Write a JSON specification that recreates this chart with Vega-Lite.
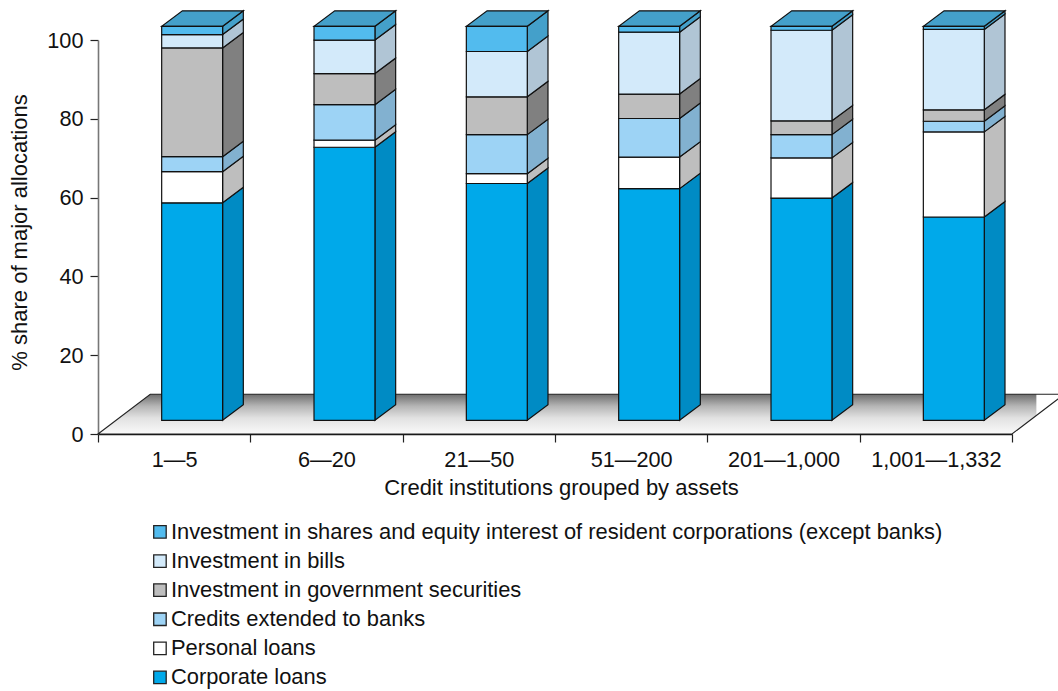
{
"$schema":"https://vega.github.io/schema/vega-lite/v6.json",
"autosize":"none","width":914,"height":394,
"padding":{"left":98,"right":46,"top":40,"bottom":257},
"background":"white",
"config":{"font":"Liberation Sans","view":{"stroke":null},
"axis":{"grid":false,"labelFont":"Liberation Sans","titleFont":"Liberation Sans","labelFontSize":21.7,"titleFontSize":22,"titleFontWeight":"normal","labelColor":"#111","titleColor":"#111","tickColor":"#222","tickSize":8,"tickWidth":1.2,"domainColor":"#333","domainWidth":1.4}},
"resolve":{"axis":{"x":"independent","y":"independent"}},
"datasets":{"alloc":[
{"group":0,"order":1,"series":"Corporate loans","share":55.2},
{"group":0,"order":2,"series":"Personal loans","share":7.9},
{"group":0,"order":3,"series":"Credits  extended to banks","share":3.8},
{"group":0,"order":4,"series":"Investment in government securities","share":27.6},
{"group":0,"order":5,"series":"Investment in bills","share":3.4},
{"group":0,"order":6,"series":"Investment in shares and equity interest of resident corporations (except banks)","share":2.1},
{"group":1,"order":1,"series":"Corporate loans","share":69.3},
{"group":1,"order":2,"series":"Personal loans","share":1.8},
{"group":1,"order":3,"series":"Credits  extended to banks","share":9.0},
{"group":1,"order":4,"series":"Investment in government securities","share":7.9},
{"group":1,"order":5,"series":"Investment in bills","share":8.5},
{"group":1,"order":6,"series":"Investment in shares and equity interest of resident corporations (except banks)","share":3.5},
{"group":2,"order":1,"series":"Corporate loans","share":60.1},
{"group":2,"order":2,"series":"Personal loans","share":2.5},
{"group":2,"order":3,"series":"Credits  extended to banks","share":9.9},
{"group":2,"order":4,"series":"Investment in government securities","share":9.6},
{"group":2,"order":5,"series":"Investment in bills","share":11.5},
{"group":2,"order":6,"series":"Investment in shares and equity interest of resident corporations (except banks)","share":6.4},
{"group":3,"order":1,"series":"Corporate loans","share":58.8},
{"group":3,"order":2,"series":"Personal loans","share":8.0},
{"group":3,"order":3,"series":"Credits  extended to banks","share":9.8},
{"group":3,"order":4,"series":"Investment in government securities","share":6.2},
{"group":3,"order":5,"series":"Investment in bills","share":15.7},
{"group":3,"order":6,"series":"Investment in shares and equity interest of resident corporations (except banks)","share":1.5},
{"group":4,"order":1,"series":"Corporate loans","share":56.4},
{"group":4,"order":2,"series":"Personal loans","share":10.2},
{"group":4,"order":3,"series":"Credits  extended to banks","share":5.9},
{"group":4,"order":4,"series":"Investment in government securities","share":3.5},
{"group":4,"order":5,"series":"Investment in bills","share":23.0},
{"group":4,"order":6,"series":"Investment in shares and equity interest of resident corporations (except banks)","share":1.0},
{"group":5,"order":1,"series":"Corporate loans","share":51.6},
{"group":5,"order":2,"series":"Personal loans","share":21.6},
{"group":5,"order":3,"series":"Credits  extended to banks","share":2.7},
{"group":5,"order":4,"series":"Investment in government securities","share":2.9},
{"group":5,"order":5,"series":"Investment in bills","share":20.4},
{"group":5,"order":6,"series":"Investment in shares and equity interest of resident corporations (except banks)","share":0.8}
]},
"layer":[
{"data":{"values":[{"x":0,"lo":0,"hi":0},{"x":0.343,"lo":0,"hi":10.1},{"x":6,"lo":0,"hi":10.1},{"x":6.16,"lo":4.7,"hi":10.1}]},
"mark":{"type":"area","stroke":null,"color":{"gradient":"linear","x1":0,"y1":0,"x2":0,"y2":1,"stops":[{"offset":0,"color":"#6e6e6e"},{"offset":0.3,"color":"#b5b5b5"},{"offset":0.6,"color":"#e2e2e2"},{"offset":1,"color":"#fafafa"}]}},
"encoding":{"x":{"field":"x","type":"quantitative","scale":{"domain":[0,6],"nice":false,"zero":false},"axis":{"values":[0,1,2,3,4,5,6],"labels":false,"title":null,"orient":"bottom","domain":false}},
"y":{"field":"lo","type":"quantitative","scale":{"domain":[0,100],"nice":false},"axis":{"values":[0,20,40,60,80,100],"title":"% share of major allocations","titlePadding":15,"titleY":192,"labelPadding":7,"domainColor":"#777","domainWidth":1.6,"orient":"left"}},
"y2":{"field":"hi"}}},
{"data":{"values":[{"x":0,"lo":0,"hi":0},{"x":0.343,"lo":0,"hi":10.1},{"x":6,"lo":0,"hi":10.1},{"x":6.343,"lo":10.1,"hi":10.1}]},
"mark":{"type":"area","fill":"transparent","stroke":"#222","strokeWidth":1.1},
"encoding":{"x":{"field":"x","type":"quantitative","axis":{"values":[0.5,1.5,2.5,3.5,4.5,5.5],"labelExpr":"['1—5','6—20','21—50','51—200','201—1,000','1,001—1,332'][floor(datum.value)]","title":"Credit institutions grouped by assets","titlePadding":7,"titleX":463,"ticks":false,"labelPadding":15,"orient":"bottom","domain":true,"domainColor":"#111"}},
"y":{"field":"lo","type":"quantitative","axis":null},"y2":{"field":"hi"}}},
{"data":{"name":"alloc"},
"transform":[
{"stack":"share","groupby":["group"],"sort":[{"field":"order","order":"ascending"}],"as":["s0","s1"]},
{"calculate":"datum.s0+3.48","as":"f0"},{"calculate":"datum.s1+3.48","as":"f1"},
{"calculate":"datum.group+0.818","as":"xr"},
{"calculate":"[0,1]","as":"t"},{"flatten":["t"]},
{"calculate":"datum.xr+0.136*datum.t","as":"sx"},{"calculate":"datum.f0+3.93*datum.t","as":"sl"},{"calculate":"datum.f1+3.93*datum.t","as":"sh"}],
"mark":{"type":"area","stroke":"#111","strokeWidth":1.2},
"encoding":{"x":{"field":"sx","type":"quantitative","axis":null},"y":{"field":"sl","type":"quantitative","axis":null},"y2":{"field":"sh"},
"detail":{"field":"group"},
"fill":{"field":"series","type":"nominal","legend":null,"scale":{"domain":["Corporate loans","Personal loans","Credits  extended to banks","Investment in government securities","Investment in bills","Investment in shares and equity interest of resident corporations (except banks)"],"range":["#008bc4","#bebebe","#82b1d0","#808080","#b0c5d5","#44a0ca"]}}}},
{"data":{"name":"alloc"},
"transform":[
{"stack":"share","groupby":["group"],"sort":[{"field":"order","order":"ascending"}],"as":["s0","s1"]},
{"filter":"datum.order==6"},
{"calculate":"datum.s1+3.48","as":"f1"},
{"calculate":"datum.group+0.418","as":"xl"},{"calculate":"datum.group+0.818","as":"xr"},
{"calculate":"[0,1,2,3]","as":"t"},{"flatten":["t"]},
{"calculate":"datum.t==0?datum.xl:datum.t==1?datum.xl+0.136:datum.t==2?datum.xr:datum.xr+0.136","as":"tx"},
{"calculate":"datum.t==3?datum.f1+3.93:datum.f1","as":"tl"},
{"calculate":"datum.t==0?datum.f1:datum.f1+3.93","as":"th"}],
"mark":{"type":"area","stroke":"#111","strokeWidth":1.2,"fill":"#44a0ca"},
"encoding":{"x":{"field":"tx","type":"quantitative","axis":null},"y":{"field":"tl","type":"quantitative","axis":null},"y2":{"field":"th"},"detail":{"field":"group"}}},
{"data":{"name":"alloc"},
"transform":[
{"stack":"share","groupby":["group"],"sort":[{"field":"order","order":"ascending"}],"as":["s0","s1"]},
{"calculate":"datum.s0+3.48","as":"f0"},{"calculate":"datum.s1+3.48","as":"f1"},
{"calculate":"datum.group+0.418","as":"xl"},{"calculate":"datum.group+0.818","as":"xr"}],
"mark":{"type":"rect","stroke":"#111","strokeWidth":1.2},
"encoding":{"x":{"field":"xl","type":"quantitative","axis":null},"x2":{"field":"xr"},"y":{"field":"f0","type":"quantitative","axis":null},"y2":{"field":"f1"},
"color":{"field":"series","type":"nominal","title":null,"scale":{"domain":["Investment in shares and equity interest of resident corporations (except banks)","Investment in bills","Investment in government securities","Credits  extended to banks","Personal loans","Corporate loans"],"range":["#52bbee","#d3eafa","#bebebe","#9dd3f5","#ffffff","#00a9ea"]},
"legend":{"orient":"none","legendX":51,"legendY":481,"padding":0,"symbolType":"square","symbolSize":156,"symbolStrokeColor":"#222","symbolStrokeWidth":1.3,"symbolOpacity":1,"labelFont":"Liberation Sans","labelFontSize":21.9,"labelColor":"#111","labelOffset":0,"labelLimit":900,"rowPadding":6.1}}}}
]}
